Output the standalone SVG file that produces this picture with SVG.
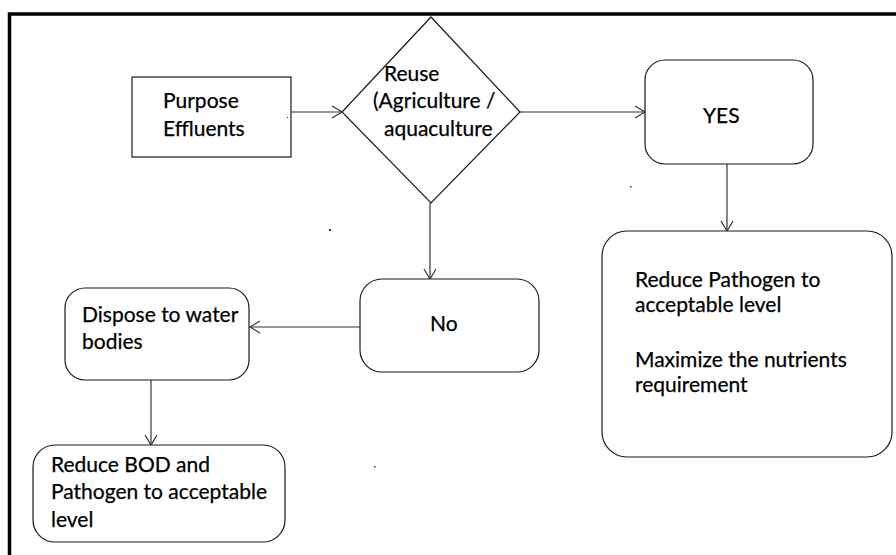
<svg xmlns="http://www.w3.org/2000/svg" width="896" height="555" viewBox="0 0 896 555">
<style>
  .box { fill: #ffffff; stroke: #1a1a1a; stroke-width: 1.2; }
  .conn { fill: none; stroke: #333333; stroke-width: 1.2; }
  .t { font-family: Lato, "Liberation Sans", sans-serif; font-size: 21px; fill: #000000; stroke: #000000; stroke-width: 0.25; }
  .frame { stroke: #000000; stroke-width: 3.5; fill: none; }
  .dot { fill: #333333; }
</style>
<defs>
  <marker id="arr" markerUnits="userSpaceOnUse" markerWidth="14" markerHeight="14" refX="11" refY="7" orient="auto">
    <path d="M1,1 L11,7 L1,13" fill="none" stroke="#333333" stroke-width="1.2"/>
  </marker>
</defs>
<rect width="896" height="555" fill="#ffffff"/>
<path class="frame" d="M9.5,555 V14 H896"/>

<g id="connectors">
  <path class="conn" d="M291,112 H342" marker-end="url(#arr)"/>
  <path class="conn" d="M520,112 H645" marker-end="url(#arr)"/>
  <path class="conn" d="M727,164 V231" marker-end="url(#arr)"/>
  <path class="conn" d="M430,203 V279" marker-end="url(#arr)"/>
  <path class="conn" d="M360,327 H250" marker-end="url(#arr)"/>
  <path class="conn" d="M151,380 V445" marker-end="url(#arr)"/>
</g>

<g id="purpose">
  <rect class="box" x="132" y="77" width="159" height="80"/>
  <text class="t" x="163" y="108">Purpose</text>
  <text class="t" x="163" y="136">Effluents</text>
</g>

<g id="reuse">
  <polygon class="box" points="431,17 520,112 431,203 342,112"/>
  <text class="t" x="384" y="81">Reuse</text>
  <text class="t" x="373" y="108">(Agriculture /</text>
  <text class="t" x="384" y="136">aquaculture</text>
</g>

<g id="yes">
  <rect class="box" x="645" y="60" width="168" height="104" rx="20" ry="20"/>
  <text class="t" x="703" y="123">YES</text>
</g>

<g id="reduce-pathogen">
  <rect class="box" x="602" y="231" width="290" height="226" rx="25" ry="25"/>
  <text class="t" x="635" y="287">Reduce Pathogen to</text>
  <text class="t" x="635" y="312">acceptable level</text>
  <text class="t" x="635" y="367">Maximize the nutrients</text>
  <text class="t" x="635" y="392">requirement</text>
</g>

<g id="no">
  <rect class="box" x="360" y="279" width="179" height="93" rx="22" ry="22"/>
  <text class="t" x="430" y="331">No</text>
</g>

<g id="dispose">
  <rect class="box" x="65" y="288" width="184" height="92" rx="20" ry="20"/>
  <text class="t" x="82" y="322">Dispose to water</text>
  <text class="t" x="82" y="349">bodies</text>
</g>

<g id="reduce-bod">
  <rect class="box" x="33" y="445" width="252" height="97" rx="22" ry="22"/>
  <text class="t" x="51" y="472">Reduce BOD and</text>
  <text class="t" x="51" y="499">Pathogen to acceptable</text>
  <text class="t" x="51" y="527">level</text>
</g>

<rect class="dot" x="329" y="229" width="2" height="2"/>
<rect class="dot" x="630" y="186" width="1.5" height="1.5"/>
<rect class="dot" x="374" y="466" width="1.5" height="1.5"/>
<rect class="dot" x="287" y="117" width="1" height="1"/>
</svg>
